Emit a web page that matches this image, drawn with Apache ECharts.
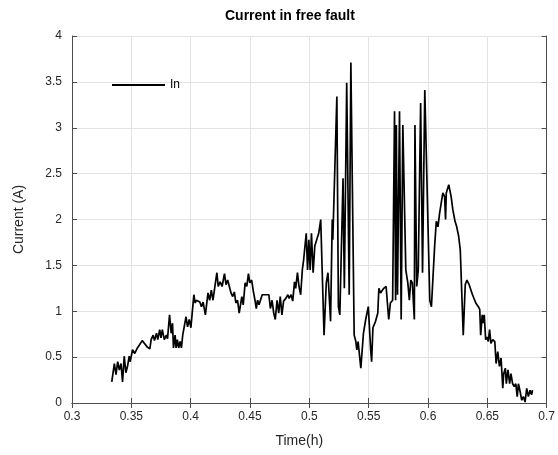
<!DOCTYPE html>
<html>
<head>
<meta charset="utf-8">
<title>Current in free fault</title>
<script src="https://cdn.jsdelivr.net/npm/echarts@6/dist/echarts.min.js"></script>
<style>
  html, body { margin: 0; padding: 0; background: #fff; }
  #chart { width: 558px; height: 455px; }
</style>
</head>
<body>
<div id="chart"></div>
<script>
// time axis (h)
var timeH = [
  0.3335, 0.3357, 0.3371, 0.3385, 0.3399, 0.3413, 0.3426, 0.3440, 0.3454, 0.3468,
  0.3482, 0.3490, 0.3510, 0.3529, 0.3551, 0.3592, 0.3634, 0.3656, 0.3667, 0.3684,
  0.3695, 0.3712, 0.3723, 0.3739, 0.3750, 0.3761, 0.3778, 0.3795, 0.3805, 0.3822,
  0.3836, 0.3847, 0.3855, 0.3869, 0.3877, 0.3888, 0.3899, 0.3911, 0.3922, 0.3933,
  0.3947, 0.3961, 0.3974, 0.3988, 0.4002, 0.4013, 0.4027, 0.4038, 0.4049, 0.4077,
  0.4091, 0.4105, 0.4124, 0.4146, 0.4160, 0.4174, 0.4188, 0.4202, 0.4221, 0.4232,
  0.4248, 0.4265, 0.4285, 0.4298, 0.4312, 0.4326, 0.4340, 0.4354, 0.4368, 0.4381,
  0.4395, 0.4409, 0.4431, 0.4443, 0.4459, 0.4473, 0.4487, 0.4498, 0.4514, 0.4528,
  0.4542, 0.4553, 0.4564, 0.4576, 0.4603, 0.4659, 0.4672, 0.4686, 0.4700, 0.4713,
  0.4728, 0.4742, 0.4755, 0.4769, 0.4783, 0.4802, 0.4819, 0.4830, 0.4846, 0.4860,
  0.4875, 0.4885, 0.4900, 0.4913, 0.4927, 0.4941, 0.4952, 0.4963, 0.4974, 0.4985,
  0.4996, 0.5007, 0.5018, 0.5032, 0.5046, 0.5062, 0.5079, 0.5096, 0.5124, 0.5143,
  0.5157, 0.5179, 0.5193, 0.5198, 0.5232, 0.5245, 0.5257, 0.5284, 0.5295, 0.5315,
  0.5336, 0.5350, 0.5378, 0.5392, 0.5400, 0.5411, 0.5434, 0.5456, 0.5475, 0.5497,
  0.5517, 0.5525, 0.5536, 0.5558, 0.5577, 0.5586, 0.5600, 0.5627, 0.5647, 0.5669,
  0.5683, 0.5702, 0.5718, 0.5727, 0.5733, 0.5743, 0.5760, 0.5774, 0.5788, 0.5813,
  0.5830, 0.5843, 0.5855, 0.5868, 0.5885, 0.5890, 0.5905, 0.5918, 0.5938, 0.5954,
  0.5973, 0.6015, 0.6029, 0.6056, 0.6070, 0.6084, 0.6098, 0.6125, 0.6140, 0.6148,
  0.6154, 0.6167, 0.6175, 0.6195, 0.6209, 0.6228, 0.6242, 0.6258, 0.6272, 0.6297,
  0.6314, 0.6328, 0.6347, 0.6375, 0.6403, 0.6424, 0.6436, 0.6444, 0.6457, 0.6466,
  0.6474, 0.6486, 0.6497, 0.6508, 0.6519, 0.6530, 0.6546, 0.6563, 0.6574, 0.6588,
  0.6602, 0.6616, 0.6630, 0.6638, 0.6652, 0.6660, 0.6674, 0.6688, 0.6699, 0.6713,
  0.6727, 0.6740, 0.6752, 0.6762, 0.6777, 0.6790, 0.6804, 0.6818, 0.6832, 0.6846,
  0.6860, 0.6873, 0.6881
]
// current In (A)
var currentA = [
  0.23, 0.43, 0.31, 0.45, 0.36, 0.43, 0.23, 0.51, 0.33, 0.40,
  0.51, 0.45, 0.58, 0.54, 0.60, 0.68, 0.61, 0.59, 0.69, 0.74,
  0.68, 0.76, 0.69, 0.80, 0.71, 0.80, 0.69, 0.74, 0.70, 0.96,
  0.76, 0.87, 0.60, 0.74, 0.60, 0.69, 0.60, 0.67, 0.60, 0.74,
  0.76, 0.94, 0.83, 0.91, 0.82, 0.98, 1.18, 1.09, 1.12, 1.10,
  1.05, 1.10, 0.96, 1.20, 1.12, 1.23, 1.12, 1.25, 1.42, 1.27,
  1.32, 1.27, 1.41, 1.29, 1.34, 1.27, 1.20, 1.16, 1.21, 1.09,
  1.12, 0.98, 1.16, 1.07, 1.31, 1.27, 1.41, 1.31, 1.34, 1.22,
  1.12, 1.03, 1.12, 1.07, 1.18, 1.18, 1.03, 1.12, 0.98, 0.91,
  1.12, 0.98, 1.16, 0.96, 1.11, 1.14, 1.18, 1.14, 1.18, 1.11,
  1.32, 1.25, 1.42, 1.27, 1.18, 1.45, 1.56, 1.56, 1.85, 1.45,
  1.78, 1.45, 1.85, 1.42, 1.71, 1.71, 1.85, 2.00, 0.74, 1.31,
  1.42, 0.89, 2.00, 1.78, 3.34, 1.05, 0.96, 2.45, 1.25, 3.49,
  1.18, 3.71, 0.74, 0.67, 0.58, 0.67, 0.38, 0.76, 0.91, 1.05,
  0.58, 0.45, 0.82, 0.89, 0.98, 1.25, 1.20, 1.25, 1.27, 0.91,
  1.09, 1.12, 3.18, 1.12, 3.03, 1.18, 3.18, 0.91, 3.03, 1.45,
  1.31, 1.12, 1.34, 1.31, 0.91, 3.03, 1.27, 1.45, 3.27, 1.42,
  3.41, 1.12, 1.05, 1.71, 1.98, 1.92, 2.07, 2.29, 2.25, 2.00,
  2.29, 2.30, 2.38, 2.25, 2.11, 1.98, 1.92, 1.82, 1.67, 0.74,
  1.29, 1.34, 1.29, 1.18, 1.09, 1.05, 1.02, 0.74, 0.96, 0.87,
  0.96, 0.69, 0.72, 0.67, 0.80, 0.65, 0.69, 0.67, 0.43, 0.56,
  0.40, 0.49, 0.16, 0.32, 0.38, 0.21, 0.36, 0.21, 0.32, 0.21,
  0.18, 0.21, 0.07, 0.21, 0.12, 0.03, 0.07, 0.01, 0.16, 0.07,
  0.14, 0.09, 0.14
]

var seriesName = 'In'
var font = 'Liberation Sans, Arial, Helvetica, sans-serif'
var axisColor = '#4d4d4d'
var gridColor = '#e3e3e3'

var points = timeH.map(function(t, i) {
  return [t, currentA[i]]
})

var xBase = {
  type: 'value',
  min: 0.3,
  max: 0.7,
  interval: 0.05,
  axisLine: { show: true, lineStyle: { color: axisColor, width: 1 }},
  axisTick: { show: true, inside: true, length: 5, lineStyle: { color: axisColor }},
  splitLine: { show: false }
}
var yBase = {
  type: 'value',
  min: 0,
  max: 4,
  interval: 0.5,
  axisLine: { show: true, lineStyle: { color: axisColor, width: 1 }},
  axisTick: { show: true, inside: true, length: 5, lineStyle: { color: axisColor }},
  splitLine: { show: false }
}

var chart = echarts.init(document.getElementById('chart'))
chart.setOption({
  animation: false,
  backgroundColor: '#fff',
  textStyle: { fontFamily: font },
  grid: { left: 72, right: 4, top: 36, bottom: 52 },
  graphic: [{
    type: 'text',
    left: 225,
    top: 9,
    style: {
      text: 'Current in free fault',
      font: 'bold 14px ' + font,
      fill: '#000'
    }
  }],
  legend: {
    data: [seriesName],
    left: 112,
    top: 79,
    padding: 0,
    icon: 'rect',
    itemWidth: 53,
    itemHeight: 2,
    textStyle: { color: '#000', fontSize: 12, fontFamily: font }
  },
  xAxis: [
    Object.assign({}, xBase, {
      position: 'bottom',
      name: 'Time(h)',
      nameLocation: 'middle',
      nameGap: 31,
      nameTextStyle: { color: '#262626', fontSize: 14, padding: [0, 20, 0, 0] },
      axisLabel: { color: '#262626', fontSize: 12, margin: 8 },
      splitLine: { show: true, lineStyle: { color: gridColor, width: 1 }}
    }),
    Object.assign({}, xBase, {
      position: 'top',
      axisLabel: { show: false }
    })
  ],
  yAxis: [
    Object.assign({}, yBase, {
      position: 'left',
      name: 'Current (A)',
      nameLocation: 'middle',
      nameGap: 46,
      nameTextStyle: { color: '#262626', fontSize: 14 },
      axisLabel: { color: '#262626', fontSize: 12, margin: 10 },
      splitLine: { show: true, lineStyle: { color: gridColor, width: 1 }}
    }),
    Object.assign({}, yBase, {
      position: 'right',
      axisLabel: { show: false }
    })
  ],
  series: [{
    name: seriesName,
    type: 'line',
    xAxisIndex: 0,
    yAxisIndex: 0,
    symbol: 'none',
    color: '#000',
    lineStyle: { color: '#000', width: 1.7 },
    data: points
  }]
})
</script>
</body>
</html>
